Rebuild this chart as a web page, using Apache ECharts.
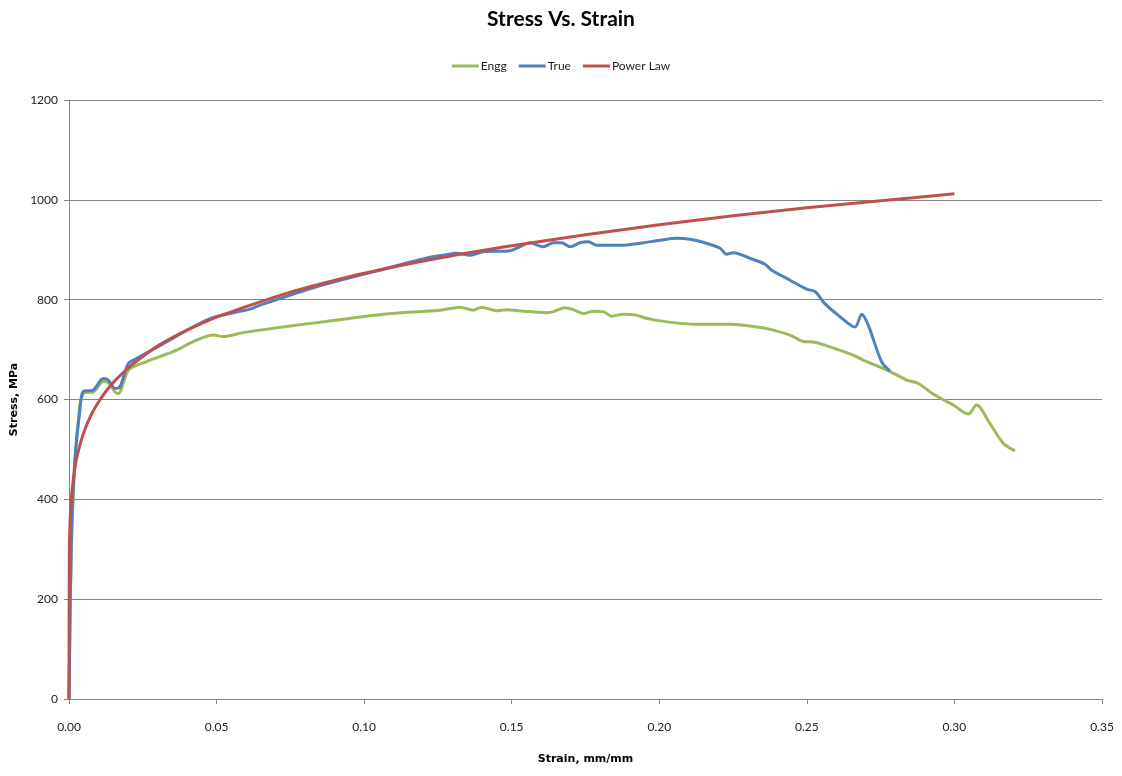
<!DOCTYPE html>
<html>
<head>
<meta charset="utf-8">
<title>Stress Vs. Strain</title>
<script src="https://cdn.jsdelivr.net/npm/echarts@6/dist/echarts.min.js"></script>
<style>
  html, body { margin: 0; padding: 0; background: #ffffff; }
  #chart { width: 1122px; height: 776px; }
</style>
</head>
<body>
<div id="chart"></div>
<script>
// Tensile test readings: [strain (mm/mm), stress (MPa)]
const enggCurve = [
  [0, 0], [0.0008, 300], [0.002, 470], [0.0035, 580], [0.0045, 608], [0.0055, 614],
  [0.0082, 615], [0.0116, 636], [0.0133, 634], [0.0156, 615], [0.0167, 612],
  [0.0195, 652], [0.0207, 662], [0.0263, 676], [0.0308, 686], [0.0365, 699],
  [0.0421, 716], [0.049, 729], [0.0523, 726], [0.059, 734], [0.0647, 739],
  [0.0839, 754], [0.1065, 771], [0.1257, 779], [0.1325, 785], [0.137, 779],
  [0.1398, 785], [0.1449, 778], [0.1483, 780], [0.1539, 777], [0.1618, 774],
  [0.1641, 776], [0.1681, 784], [0.1709, 780], [0.1743, 772], [0.1777, 777],
  [0.181, 776], [0.1839, 767], [0.1878, 771], [0.1912, 770], [0.1969, 761],
  [0.2048, 754], [0.2115, 751], [0.224, 751], [0.2307, 747], [0.2364, 742],
  [0.2443, 729], [0.2488, 716], [0.2522, 715], [0.259, 703], [0.2657, 689],
  [0.2691, 679], [0.2782, 656], [0.2838, 639], [0.2878, 632], [0.2928, 611],
  [0.2996, 589], [0.3047, 571], [0.3075, 589], [0.312, 552], [0.3166, 512],
  [0.3205, 497]
];

const trueCurve = [
  [0, 0], [0.0008, 320], [0.002, 480], [0.0037, 579], [0.0048, 616], [0.0082, 619],
  [0.0116, 642], [0.0133, 639], [0.0156, 622], [0.0173, 626], [0.0201, 672],
  [0.0229, 682], [0.0308, 708], [0.0478, 762], [0.0613, 781], [0.0647, 789],
  [0.0839, 826], [0.1065, 861], [0.1223, 885], [0.1268, 889], [0.1314, 893],
  [0.1359, 889], [0.1404, 896], [0.1494, 898], [0.1528, 906], [0.1562, 914],
  [0.1607, 906], [0.1641, 914], [0.1669, 914], [0.1698, 906], [0.1731, 914],
  [0.176, 916], [0.1788, 909], [0.1867, 909], [0.1935, 913], [0.2002, 919],
  [0.2059, 923], [0.2104, 921], [0.216, 913], [0.2206, 903], [0.2228, 891],
  [0.2251, 894], [0.2307, 883], [0.2358, 871], [0.2381, 859], [0.2443, 839],
  [0.2499, 821], [0.2528, 816], [0.2561, 792], [0.2612, 766], [0.2663, 745],
  [0.2686, 771], [0.2708, 749], [0.2753, 676], [0.2782, 657]
];

const powerLawCurve = [
  [0, 0], [0.0001, 290], [0.0003, 344], [0.0005, 373], [0.001, 416], [0.002, 463],
  [0.003, 493], [0.005, 534], [0.0075, 569], [0.01, 595], [0.0125, 616],
  [0.015, 634], [0.0175, 649], [0.02, 663], [0.025, 686], [0.03, 707],
  [0.035, 724], [0.04, 739], [0.05, 765], [0.0625, 791], [0.075, 815],
  [0.0875, 835], [0.1, 853], [0.125, 883], [0.15, 908], [0.175, 930],
  [0.2, 950], [0.225, 968], [0.25, 984], [0.275, 998], [0.3, 1012]
];

const xTicks = { min: 0, max: 0.35, step: 0.05 };
const yTicks = { min: 0, max: 1200, step: 200 };

const uiFont = "Lato, 'Open Sans', sans-serif";
const nameFont = "'DejaVu Sans', Lato, sans-serif";

const chart = echarts.init(document.getElementById('chart'), null, { renderer: 'canvas' });

chart.setOption({
  animation: false,
  backgroundColor: '#ffffff',
  title: {
    text: 'Stress Vs. Strain',
    left: 'center',
    top: 4,
    textStyle: { fontFamily: uiFont, fontWeight: 'bold', fontSize: 21, color: '#000000' }
  },
  legend: {
    top: 55,
    left: 'center',
    icon: 'rect',
    itemWidth: 27,
    itemHeight: 3,
    itemGap: 12,
    textStyle: { fontFamily: uiFont, fontSize: 12, color: '#222222', padding: [0, 0, 0, -3] },
    data: ['Engg', 'True', 'Power Law']
  },
  grid: { left: 69, right: 20, top: 100, bottom: 77, containLabel: false, outerBoundsMode: 'none' },
  xAxis: {
    type: 'value',
    min: xTicks.min,
    max: xTicks.max,
    interval: xTicks.step,
    name: 'Strain, mm/mm',
    nameLocation: 'middle',
    nameGap: 55,
    nameTextStyle: { fontFamily: nameFont, fontWeight: 'bold', fontSize: 11, color: '#000000' },
    axisLine: { show: true, lineStyle: { color: '#868686', width: 1 } },
    axisTick: { show: true, inside: false, length: 5, lineStyle: { color: '#868686' } },
    axisLabel: {
      margin: 22,
      fontFamily: uiFont, fontSize: 12, color: '#222222',
      formatter: v => v.toFixed(2)
    },
    splitLine: { show: false }
  },
  yAxis: {
    type: 'value',
    min: yTicks.min,
    max: yTicks.max,
    interval: yTicks.step,
    name: 'Stress, MPa',
    nameLocation: 'middle',
    nameGap: 45,
    nameTextStyle: { fontFamily: nameFont, fontWeight: 'bold', fontSize: 11, color: '#000000' },
    axisLine: { show: true, lineStyle: { color: '#868686', width: 1 } },
    axisTick: { show: true, inside: false, length: 5, lineStyle: { color: '#868686' } },
    axisLabel: {
      margin: 11, fontFamily: uiFont, fontSize: 12, color: '#222222',
      formatter: v => String(v)
    },
    splitLine: { show: true, lineStyle: { color: '#868686', width: 1 } }
  },
  series: [
    {
      name: 'Engg', type: 'line', data: enggCurve, showSymbol: false, smooth: 0.3,
      lineStyle: { color: '#9BBB59', width: 3 }, itemStyle: { color: '#9BBB59' }
    },
    {
      name: 'True', type: 'line', data: trueCurve, showSymbol: false, smooth: 0.3,
      lineStyle: { color: '#4F81BD', width: 3 }, itemStyle: { color: '#4F81BD' }
    },
    {
      name: 'Power Law', type: 'line', data: powerLawCurve, showSymbol: false, smooth: 0.2,
      lineStyle: { color: '#C0504D', width: 3 }, itemStyle: { color: '#C0504D' }
    }
  ]
});
</script>
</body>
</html>
